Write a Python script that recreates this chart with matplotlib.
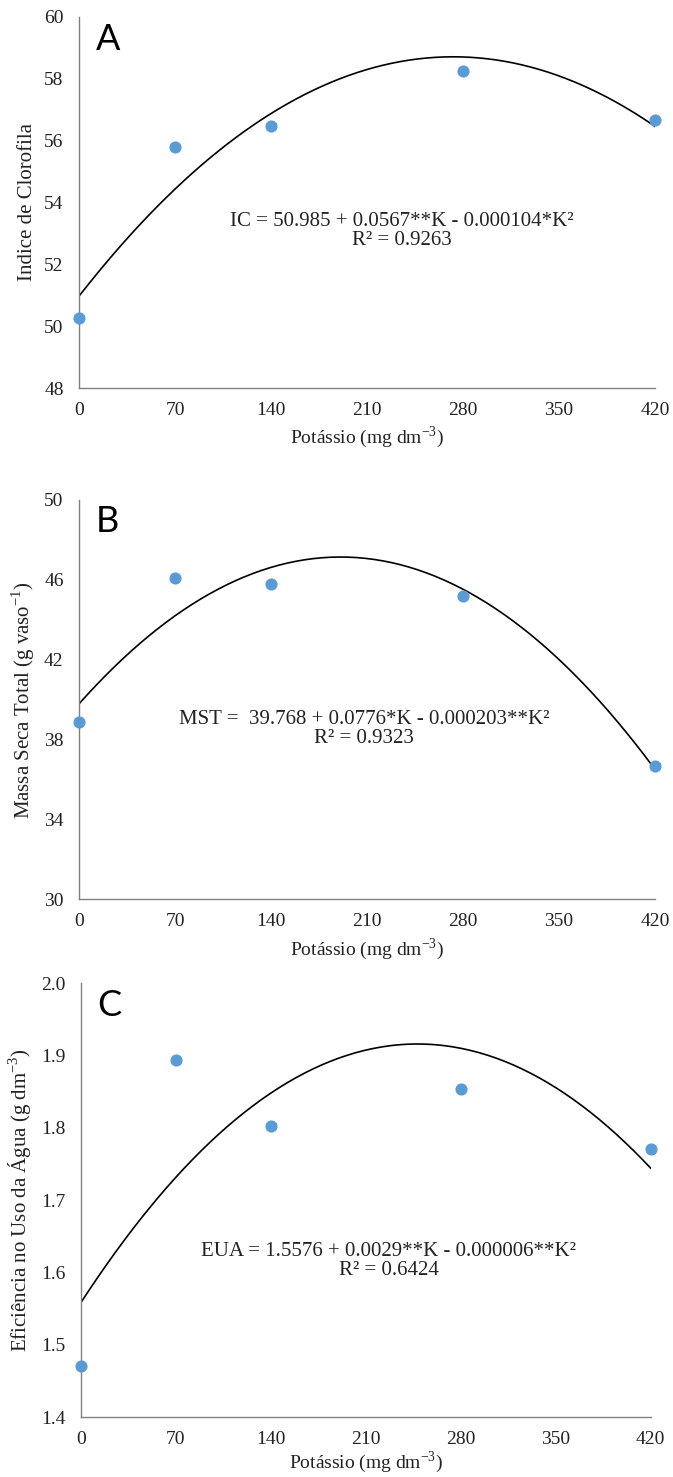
import numpy as np
import matplotlib.pyplot as plt

plt.rcParams['font.family'] = ['Liberation Serif', 'DejaVu Serif']
plt.rcParams['mathtext.fontset'] = 'custom'
plt.rcParams['mathtext.rm'] = 'Liberation Serif'

# potassium doses (mg dm-3)
doses = [0, 70, 140, 280, 420]
xticks = [0, 70, 140, 210, 280, 350, 420]

# A: chlorophyll index
ic = [50.25, 55.8, 56.48, 58.25, 56.67]
# B: total dry mass
mst = [38.9, 46.08, 45.78, 45.2, 36.7]
# C: water use efficiency
eua = [1.471, 1.894, 1.803, 1.853, 1.770]

panels = [
    dict(y=ic, letter='A', ylim=(48, 60), yticks=[48, 50, 52, 54, 56, 58, 60], fmt='{:.0f}',
         ylabel='Indice de Clorofila',
         eq='IC = 50.985 + 0.0567**K - 0.000104*K²\nR² = 0.9263',
         pos=[0.1174, 0.7373, 0.8559, 0.2512], eqxy=(0.597, 0.8436), lxy=(0.1426, 0.9661), xpad=4),
    dict(y=mst, letter='B', ylim=(30, 50), yticks=[30, 34, 38, 42, 46, 50], fmt='{:.0f}',
         ylabel=r'Massa Seca Total (g vaso$^{\mathregular{-1}}$)',
         eq='MST =  39.768 + 0.0776*K - 0.000203**K²\nR² = 0.9323',
         pos=[0.1174, 0.3910, 0.8559, 0.2705], eqxy=(0.541, 0.5064), lxy=(0.1426, 0.6398), xpad=4),
    dict(y=eua, letter='C', ylim=(1.4, 2.0), yticks=[1.4, 1.5, 1.6, 1.7, 1.8, 1.9, 2.0], fmt='{:.1f}',
         ylabel=r'Eficiência no Uso da Água (g dm$^{\mathregular{-3}}$)',
         eq='EUA = 1.5576 + 0.0029**K - 0.000006**K²\nR² = 0.6424',
         pos=[0.1198, 0.0405, 0.8470, 0.2939], eqxy=(0.578, 0.1462), lxy=(0.1440, 0.3121), xpad=1),
]

fig = plt.figure(figsize=(6.73, 14.77), dpi=100)

for p in panels:
    ax = fig.add_axes(p['pos'])
    # quadratic trendline fitted to the points
    coef = np.polyfit(doses, p['y'], 2)
    xs = np.linspace(0, 420, 200)
    ax.plot(xs, np.polyval(coef, xs), color='black', lw=1.2, zorder=2)
    ax.scatter(doses, p['y'], s=60, color='#5B9BD5', zorder=3, clip_on=False)

    ax.set_xlim(0, 420)
    ax.set_ylim(*p['ylim'])
    ax.set_xticks(xticks)
    ax.set_yticks(p['yticks'])
    ax.set_yticklabels([p['fmt'].format(v) for v in p['yticks']])
    for s in ['top', 'right']:
        ax.spines[s].set_visible(False)
    for s in ['left', 'bottom']:
        ax.spines[s].set_color('#808080')
        ax.spines[s].set_linewidth(1.0)
    ax.tick_params(axis='y', length=0, pad=11, labelsize=14, colors='#222222')
    ax.tick_params(axis='x', length=0, pad=10, labelsize=14, colors='#222222')
    ax.set_xlabel(r'Potássio (mg dm$^{\mathregular{-3}}$)', fontsize=14, color='#222222',
                  labelpad=p['xpad'])
    ax.set_ylabel(p['ylabel'], fontsize=15, color='#222222', labelpad=5)

    fig.text(p['eqxy'][0], p['eqxy'][1], p['eq'], ha='center', va='center',
             fontsize=15, linespacing=1.05, color='#222222')
    fig.text(p['lxy'][0], p['lxy'][1], p['letter'], ha='left', va='baseline',
             fontsize=26, family='Lato', color='black')

fig.savefig('out.png', dpi=100)
